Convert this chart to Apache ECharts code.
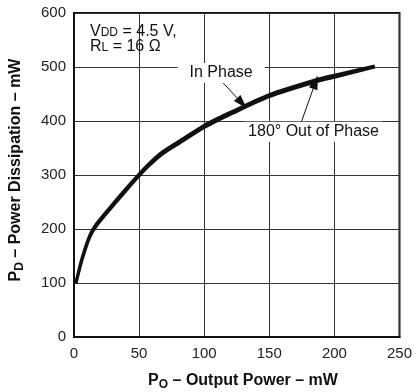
<!DOCTYPE html>
<html><head><meta charset="utf-8">
<script src="https://cdn.jsdelivr.net/npm/echarts@6/dist/echarts.min.js"></script>
<style>html,body{margin:0;padding:0;background:#fff}#c{width:415px;height:392px}</style>
</head><body><div id="c"></div>
<script>
// Data
const po = [1.5, 6, 12, 17, 30, 40, 50, 58, 68, 81, 100, 112, 119, 150, 188, 200, 231];
const pdInPhase = [101, 145, 188, 209, 247, 275, 302, 322, 343, 363, 392, 407, 415, 449, 478, 485, 502];
const pdOutPhase = [99, 141, 184, 205, 243, 271, 298, 318, 339, 359, 388, 403, 411, 445, 474, 481, 500];
const xTicks = [0, 50, 100, 150, 200, 250];
const yTicks = [0, 100, 200, 300, 400, 500, 600];

const FONT = "'Liberation Sans', Arial, sans-serif";
const chart = echarts.init(document.getElementById('c'));
const toPairs = (xs, ys) => xs.map((x, i) => [x, ys[i]]);

chart.setOption({
  animation: false,
  backgroundColor: '#fff',
  grid: { left: 74, right: 14, top: 13, bottom: 55, show: true, borderColor: '#111', borderWidth: 2 },
  xAxis: {
    type: 'value', min: xTicks[0], max: xTicks[xTicks.length - 1], interval: 50,
    axisLine: { show: true, lineStyle: { color: '#111', width: 2 } },
    axisTick: { show: false },
    splitLine: { show: true, lineStyle: { color: '#333', width: 1 } },
    axisLabel: { color: '#222', fontSize: 15, fontFamily: FONT, margin: 9 }
  },
  yAxis: {
    type: 'value', min: yTicks[0], max: yTicks[yTicks.length - 1], interval: 100,
    axisLine: { show: true, lineStyle: { color: '#111', width: 2 } },
    axisTick: { show: false },
    splitLine: { show: true, lineStyle: { color: '#333', width: 1 } },
    axisLabel: { color: '#222', fontSize: 15, fontFamily: FONT, margin: 8 }
  },
  series: [
    {
      name: 'In Phase', type: 'line', data: toPairs(po, pdInPhase), showSymbol: false, smooth: 0.25,
      lineStyle: { color: '#111', width: 3 }, z: 3,
      markLine: {
        silent: true, symbol: ['none', 'triangle'], symbolSize: [9, 14],
        lineStyle: { color: '#111', width: 1, type: 'solid' }, label: { show: false },
        data: [
          [{ coord: [114, 472] }, { coord: [129, 433] }],
          [{ coord: [174, 394] }, { coord: [185.5, 472] }]
        ]
      }
    },
    {
      name: '180° Out of Phase', type: 'line', data: toPairs(po, pdOutPhase), showSymbol: false, smooth: 0.25,
      lineStyle: { color: '#111', width: 3 }, z: 3
    }
  ]
});

function P(x, y) { return chart.convertToPixel({ gridIndex: 0 }, [x, y]); }
const pIn = P(113, 489);
const pOut = P(184, 380);
chart.setOption({
  graphic: [
    { type: 'text', left: 90, top: 20, z: 100, style: {
        text: 'V{s|DD} = 4.5 V,\nR{s|L} = 16 Ω', font: '16px ' + FONT, fill: '#111', lineHeight: 15,
        rich: { s: { fontSize: 12, fontFamily: FONT, fill: '#111', padding: [7, 0, 0, 0], lineHeight: 15, verticalAlign: 'bottom' } } } },
    { type: 'text', x: pIn[0], y: pIn[1], z: 100, style: {
        text: 'In Phase', font: '16px ' + FONT, fill: '#111', align: 'center', verticalAlign: 'middle',
        backgroundColor: '#fff', padding: [2, 12, 2, 12] } },
    { type: 'text', x: pOut[0], y: pOut[1], z: 100, style: {
        text: '180° Out of Phase', font: '16px ' + FONT, fill: '#111', align: 'center', verticalAlign: 'middle',
        backgroundColor: '#fff', padding: [2, 3, 2, 3] } },
    { type: 'text', x: 243, y: 381, z: 100, style: {
        text: 'P{s|O} – Output Power – mW', font: 'bold 16px ' + FONT, fill: '#111', align: 'center', verticalAlign: 'middle',
        rich: { s: { fontSize: 12, fontWeight: 'bold', fontFamily: FONT, fill: '#111', padding: [7, 0, 0, 0], verticalAlign: 'bottom' } } } },
    { type: 'text', x: 16, y: 170, rotation: Math.PI / 2, z: 100, style: {
        text: 'P{s|D} – Power Dissipation – mW', font: 'bold 16px ' + FONT, fill: '#111', align: 'center', verticalAlign: 'middle',
        rich: { s: { fontSize: 12, fontWeight: 'bold', fontFamily: FONT, fill: '#111', padding: [7, 0, 0, 0], verticalAlign: 'bottom' } } } }
  ]
});
</script></body></html>
